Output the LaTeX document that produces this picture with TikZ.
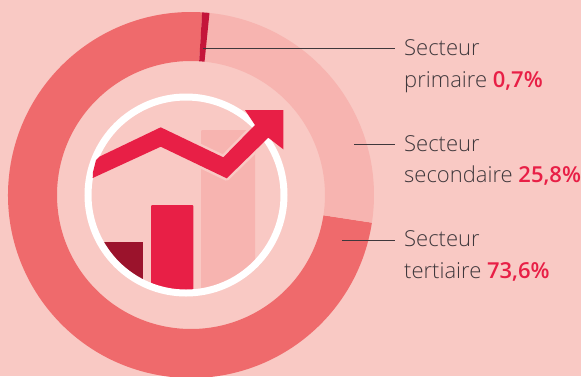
\documentclass[tikz,border=0pt]{standalone}
\usepackage{fontspec}
\setmainfont{Open Sans Light}[BoldFont={Open Sans Semibold}]
\definecolor{bgc}{HTML}{F9C9C4}
\definecolor{ringa}{HTML}{EF6A6C}
\definecolor{ringb}{HTML}{F7B4B0}
\definecolor{ringc}{HTML}{C4153A}
\definecolor{redc}{HTML}{E81F46}
\definecolor{darkc}{HTML}{9B132C}
\definecolor{linec}{HTML}{3F383C}
\tikzset{
  lbl/.style={anchor=base west,inner sep=0pt,text=linec,font=\fontsize{22}{26}\selectfont},
  leader/.style={draw=linec,line width=1.5pt},
}
\newcommand{\pct}[1]{\textcolor{redc}{\textbf{#1}}}
\newcommand{\wedgefill}[3]{% colour, start, end (degrees clockwise from vertical)
  \fill[#1] ({191+183*sin(#2)},{195-183*cos(#2)}) arc[start angle={#2-90},end angle={#3-90},radius=183]
    -- ({191+134*sin(#3)},{195-134*cos(#3)}) arc[start angle={#3-90},end angle={#2-90},radius=134] -- cycle;}
\begin{document}
\begin{tikzpicture}[x=1pt,y=-1pt]
\useasboundingbox (0,0) rectangle (581,376);
\clip (0,0) rectangle (581,376);
\fill[bgc] (0,0) rectangle (581,376);
% ring (y axis is flipped, so arcs go with increasing angle = clockwise on screen)
\wedgefill{ringa}{98.7}{363.5}
\wedgefill{ringb}{5.5}{98.7}
\wedgefill{ringc}{3.5}{5.8}
% bars
\begin{scope}
  \clip (186,195) circle[radius=99];
  \fill[ringb,rounded corners=1pt] (201,130) rectangle (255,310);
  \fill[redc,rounded corners=1pt] (151,205) rectangle (193.3,310);
  \fill[darkc] (90,242.3) rectangle (143,310);
  \begin{scope}
    \clip (201,130) rectangle (255,310);
    \draw[bgc,line width=5pt,line join=round] (99.3,156.7) -- (160.7,127.3) -- (223.3,157.3) -- (255,125) -- (268.3,137.7) -- (226.7,178.3) -- (160.7,146.7) -- (92.7,178) -- cycle;
  \end{scope}
\end{scope}
% white circle
\draw[white,line width=7pt] (186,195) circle[radius=98];
% arrow
\fill[redc,line join=round] (92.7,178) -- (93,172) -- (96,160) -- (99.3,156.7) -- (160.7,127.3) -- (223.3,157.3) -- (255,125) -- (245,110) -- (283.3,110) -- (283.3,149.3) -- (268.3,137.7) -- (226.7,178.3) -- (160.7,146.7) -- cycle;
% labels
\node[lbl] (l1a) at (404,55) {Secteur};
\node[lbl] (l1b) at (404,87) {primaire \pct{0,7\%}};
\node[lbl] (l2a) at (404,151.5) {Secteur};
\node[lbl] (l2b) at (404,182.7) {secondaire \pct{25,8\%}};
\node[lbl] (l3a) at (404,246.7) {Secteur};
\node[lbl] (l3b) at (404,278) {tertiaire \pct{73,6\%}};
% leaders
\coordinate (c1s) at (203,48.5); \coordinate (c1e) at (395,48.5);
\coordinate (c2s) at (354,144.7); \coordinate (c2e) at (395,144.7);
\coordinate (c3s) at (342,240.7); \coordinate (c3e) at (395,240.7);
\draw[leader] (c1s) -- (c1e);
\draw[leader] (c2s) -- (c2e);
\draw[leader] (c3s) -- (c3e);
\end{tikzpicture}
\end{document}
